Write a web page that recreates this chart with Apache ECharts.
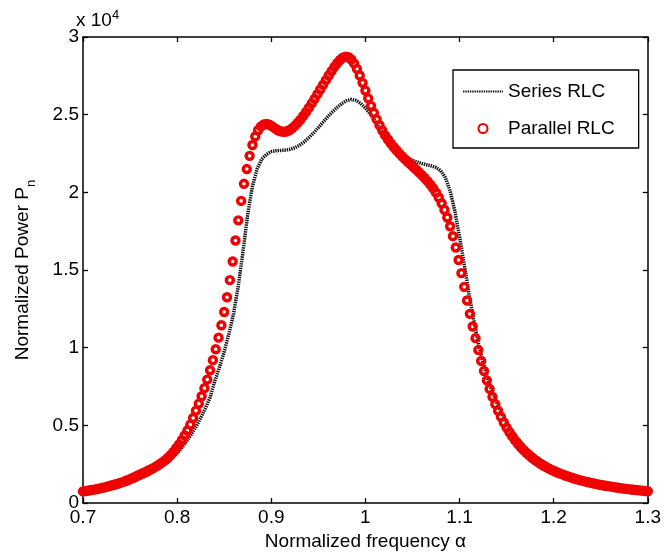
<!DOCTYPE html>
<html>
<head>
<meta charset="utf-8">
<script src="https://cdn.jsdelivr.net/npm/echarts@6/dist/echarts.min.js"></script>
<style>
html,body{margin:0;padding:0;background:#fff;}
#chart{width:664px;height:556px;}
</style>
</head>
<body>
<div id="chart"></div>
<script>
// x sampling grids (normalized frequency alpha)
const redStart = 0.700, redStep = 0.003;   // Parallel RLC markers
const blkStart = 0.700, blkStep = 0.005;   // Series RLC line
// Parallel RLC, normalized power in units of 1e4
const parallelRLC = [
0.075,0.078,0.081,0.084,0.087,0.091,0.095,0.099,0.103,0.108,
0.113,0.118,0.123,0.129,0.135,0.142,0.149,0.157,0.165,0.174,
0.183,0.191,0.199,0.208,0.217,0.227,0.238,0.249,0.262,0.275,
0.290,0.309,0.330,0.353,0.378,0.405,0.435,0.467,0.505,0.548,
0.595,0.640,0.688,0.740,0.795,0.855,0.920,0.990,1.065,1.145,
1.230,1.325,1.435,1.555,1.690,1.820,1.945,2.055,2.150,2.235,
2.305,2.360,2.400,2.425,2.437,2.440,2.435,2.425,2.412,2.400,
2.393,2.390,2.392,2.400,2.412,2.428,2.447,2.468,2.492,2.518,
2.545,2.573,2.602,2.632,2.662,2.692,2.722,2.752,2.780,2.808,
2.832,2.852,2.867,2.874,2.870,2.855,2.830,2.795,2.752,2.705,
2.655,2.605,2.557,2.512,2.470,2.432,2.398,2.367,2.340,2.315,
2.292,2.271,2.251,2.232,2.214,2.197,2.180,2.163,2.146,2.129,
2.111,2.092,2.072,2.050,2.026,1.998,1.967,1.930,1.887,1.838,
1.782,1.718,1.645,1.565,1.480,1.392,1.304,1.218,1.137,1.062,
0.985,0.915,0.850,0.790,0.735,0.684,0.637,0.594,0.555,0.519,
0.486,0.456,0.429,0.404,0.381,0.360,0.341,0.323,0.307,0.292,
0.278,0.265,0.253,0.242,0.232,0.222,0.213,0.205,0.197,0.190,
0.183,0.176,0.170,0.164,0.158,0.153,0.148,0.143,0.138,0.134,
0.130,0.126,0.122,0.118,0.115,0.112,0.109,0.106,0.103,0.100,
0.097,0.095,0.092,0.090,0.088,0.086,0.084,0.082,0.080,0.078,
0.076
];
// Series RLC, normalized power in units of 1e4
const seriesRLC = [
0.070,0.074,0.078,0.083,0.088,0.094,0.100,0.107,0.115,0.124,
0.134,0.145,0.157,0.170,0.185,0.202,0.220,0.241,0.265,0.292,
0.322,0.357,0.397,0.442,0.492,0.548,0.610,0.680,0.785,0.875,
0.975,1.090,1.220,1.400,1.620,1.860,2.040,2.150,2.215,2.245,
2.262,2.268,2.270,2.272,2.277,2.287,2.303,2.325,2.352,2.383,
2.417,2.452,2.486,2.518,2.547,2.572,2.590,2.598,2.592,2.573,
2.543,2.505,2.462,2.417,2.373,2.332,2.296,2.265,2.240,2.221,
2.206,2.195,2.186,2.178,2.170,2.160,2.140,2.095,2.010,1.880,
1.715,1.535,1.350,1.180,1.030,0.905,0.800,0.712,0.638,0.575,
0.520,0.472,0.430,0.393,0.360,0.331,0.305,0.282,0.261,0.243,
0.226,0.211,0.197,0.185,0.174,0.164,0.155,0.146,0.138,0.131,
0.124,0.118,0.112,0.107,0.102,0.097,0.093,0.089,0.085,0.081,
0.078
];
const xTicks = [0.7, 0.8, 0.9, 1.0, 1.1, 1.2, 1.3];
const yTicks = [0, 0.5, 1, 1.5, 2, 2.5, 3];
const xLabel = 'Normalized frequency \u03b1';
const yLabel = 'Normalized Power P{sub|n}';
const exponentText = 'x 10{sup|4}';
const names = ['Series RLC', 'Parallel RLC'];

const redData = parallelRLC.map((v, i) => [+(redStart + i * redStep).toFixed(4), v]);
const blkData = seriesRLC.map((v, i) => [+(blkStart + i * blkStep).toFixed(4), v]);

const FONT = "'Liberation Sans', Arial, Helvetica, sans-serif";
const FS = 19;
const fmt = v => String(+(+v).toFixed(2));

const chart = echarts.init(document.getElementById('chart'), null, {renderer: 'canvas'});
const axisCommon = {
  axisLine: {show: true, onZero: false, lineStyle: {color: '#000', width: 1.5}},
  axisTick: {show: true, inside: true, length: 5, lineStyle: {color: '#000', width: 1.3}},
  splitLine: {show: false}
};
chart.setOption({
  animation: false,
  backgroundColor: '#fff',
  grid: {left: 75, right: 14, top: 37, bottom: 46, containLabel: false},
  xAxis: [
    Object.assign({}, axisCommon, {
      type: 'value', position: 'bottom',
      min: xTicks[0], max: xTicks[xTicks.length - 1], interval: 0.1,
      axisLabel: {color: '#000', fontFamily: FONT, fontSize: FS, margin: 5, formatter: fmt, showMinLabel: true, showMaxLabel: true},
      name: xLabel, nameLocation: 'middle', nameGap: 24,
      nameTextStyle: {color: '#000', fontFamily: FONT, fontSize: FS}
    }),
    Object.assign({}, axisCommon, {
      type: 'value', position: 'top',
      min: xTicks[0], max: xTicks[xTicks.length - 1], interval: 0.1,
      axisLabel: {show: false}
    })
  ],
  yAxis: [
    Object.assign({}, axisCommon, {
      type: 'value', position: 'left',
      min: yTicks[0], max: yTicks[yTicks.length - 1], interval: 0.5,
      axisLabel: {color: '#000', fontFamily: FONT, fontSize: FS, margin: 4, formatter: fmt},
      name: yLabel, nameLocation: 'middle', nameGap: 45, nameRotate: 90,
      nameTextStyle: {color: '#000', fontFamily: FONT, fontSize: FS, lineHeight: 30,
        rich: {sub: {color: '#000', fontFamily: FONT, fontSize: 13, lineHeight: 14, verticalAlign: 'bottom'}}}
    }),
    Object.assign({}, axisCommon, {
      type: 'value', position: 'right',
      min: yTicks[0], max: yTicks[yTicks.length - 1], interval: 0.5,
      axisLabel: {show: false}
    })
  ],
  legend: {
    show: true, orient: 'vertical', left: 453, top: 70,
    padding: [12, 24, 10, 9], itemGap: 18, itemWidth: 40, itemHeight: 9,
    backgroundColor: '#fff', borderColor: '#000', borderWidth: 1.3, borderRadius: 0,
    textStyle: {color: '#000', fontFamily: FONT, fontSize: FS},
    data: [
      {name: names[0], itemStyle: {opacity: 0}},
      {name: names[1], icon: 'circle'}
    ]
  },
  graphic: [{
    type: 'text', left: 76, top: 9,
    style: {text: exponentText, fill: '#000', font: FS + 'px ' + FONT, lineHeight: 24,
      rich: {sup: {fill: '#000', fontFamily: FONT, fontSize: 13, lineHeight: 13, verticalAlign: 'top'}}}
  }],
  series: [
    {
      name: names[0], type: 'line', data: blkData, xAxisIndex: 0, yAxisIndex: 0,
      symbol: 'none', smooth: false, z: 2,
      lineStyle: {color: '#111', width: 3.5, type: [1.4, 0.9]},
      itemStyle: {color: '#111'}
    },
    {
      name: names[1], type: 'scatter', data: redData, xAxisIndex: 0, yAxisIndex: 0,
      symbol: 'circle', symbolSize: 7, z: 3,
      itemStyle: {color: 'rgba(255,255,255,0)', borderColor: '#f00000', borderWidth: 3.4, opacity: 1}
    }
  ]
});
</script>
</body>
</html>
